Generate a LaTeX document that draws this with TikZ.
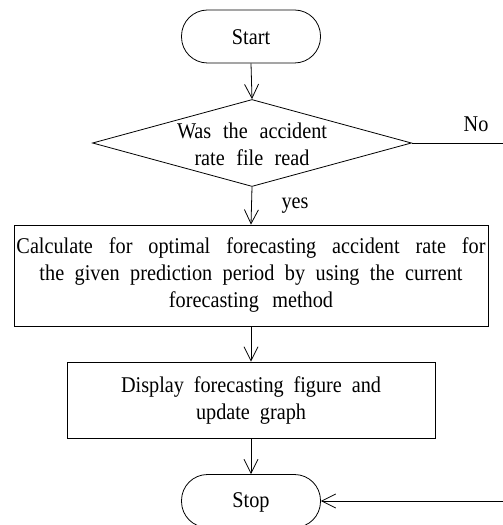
\documentclass[tikz,border=0pt]{standalone}
\usepackage{fontspec}
\setmainfont[FakeStretch=0.9]{Liberation Serif}
\usetikzlibrary{arrows.meta,shapes.geometric}
\newcommand{\fitline}[2]{\makebox[#1bp][s]{#2}}
\begin{document}
\begin{tikzpicture}[x=1bp,y=-1bp,
  txt/.style={font=\fontsize{22.5bp}{27bp}\selectfont, inner sep=0pt, align=center},
  term/.style={draw, line width=0.8bp, rectangle, rounded corners=26bp, minimum width=139bp, minimum height=53bp, inner sep=0pt},
  procbox/.style={draw, line width=0.8bp, rectangle, inner sep=0pt},
  decide/.style={draw, line width=0.8bp, diamond, inner sep=0pt, minimum width=319bp, minimum height=87bp},
  flow/.style={line width=0.8bp, -{Straight Barb[length=14bp,width=14bp,line width=0.8bp]}},
  plain/.style={line width=0.8bp}]
\useasboundingbox (0,0) rectangle (503,525);

\node[term] (start) at (251,36.5) {};
\node[txt] (startt) at (251,37) {Start};

\node[decide] (dec) at (252,143) {};
\node[txt] (dect) at (252,144) {\fitline{150}{Was the accident}\\\fitline{115}{rate file read}};

\node[procbox, minimum width=474bp, minimum height=101bp] (calc) at (251,275.5) {};
\node[txt] (calct) at (251,275) {\fitline{469}{Calculate for optimal forecasting accident rate for}\\\fitline{423}{the given prediction period by using the current}\\\fitline{164}{forecasting method}};

\node[procbox, minimum width=368bp, minimum height=76bp] (disp) at (251,400) {};
\node[txt] (dispt) at (251,401) {\fitline{260}{Display forecasting figure and}\\\fitline{110}{update graph}};

\node[term] (stop) at (251,501) {};
\node[txt] (stopt) at (251,502) {Stop};

\node[txt] (yes) at (295,206) {yes};
\node[txt] (no) at (476,124) {No};

\coordinate (r1) at (506,143);
\coordinate (r2) at (506,501);

\draw[flow] (start.south) -- (dec.north);
\draw[flow] (dec.south) -- (calc.north);
\draw[flow] (calc.south) -- (disp.north);
\draw[flow] (disp.south) -- (stop.north);
\draw[flow] (dec.east) -- (r1) -- (r2) -- (stop.east);
\end{tikzpicture}
\end{document}
